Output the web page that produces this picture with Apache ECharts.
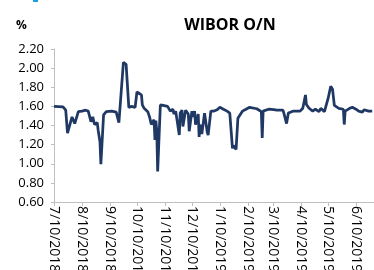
<!DOCTYPE html>
<html>
<head>
<meta charset="utf-8">
<script src="https://cdn.jsdelivr.net/npm/echarts@6/dist/echarts.min.js"></script>
<style>
  html, body { margin: 0; padding: 0; background: #fff; }
  #chart { width: 374px; height: 270px; }
</style>
</head>
<body>
<div id="chart"></div>
<script>
// WIBOR O/N, values (business days, key points)
var dates = [
  '2018-07-10','2018-07-20','2018-07-23','2018-07-25','2018-07-27','2018-07-30','2018-08-01','2018-08-02',
  '2018-08-06','2018-08-10','2018-08-14','2018-08-17','2018-08-20','2018-08-22','2018-08-24','2018-08-27',
  '2018-08-28','2018-08-30','2018-08-31','2018-09-03','2018-09-06','2018-09-12','2018-09-17','2018-09-20',
  '2018-09-25','2018-09-28','2018-10-01','2018-10-04','2018-10-08','2018-10-10','2018-10-15','2018-10-16',
  '2018-10-18','2018-10-22','2018-10-24','2018-10-26','2018-10-29','2018-10-30','2018-10-31','2018-11-01',
  '2018-11-02','2018-11-05','2018-11-08','2018-11-13','2018-11-14','2018-11-16','2018-11-19','2018-11-20',
  '2018-11-22','2018-11-23','2018-11-26','2018-11-27','2018-11-29','2018-11-30','2018-12-03','2018-12-05',
  '2018-12-06','2018-12-07','2018-12-10','2018-12-11','2018-12-13','2018-12-14','2018-12-17','2018-12-18',
  '2018-12-19','2018-12-21','2018-12-24','2018-12-27','2018-12-28','2018-12-31','2019-01-03','2019-01-07',
  '2019-01-09','2019-01-10','2019-01-14','2019-01-18','2019-01-21','2019-01-24','2019-01-25','2019-01-28',
  '2019-01-29','2019-01-30','2019-02-04','2019-02-08','2019-02-12','2019-02-20','2019-02-25','2019-02-26',
  '2019-02-27','2019-03-05','2019-03-11','2019-03-14','2019-03-21','2019-03-22','2019-03-25','2019-03-27',
  '2019-04-01','2019-04-09','2019-04-12','2019-04-15','2019-04-16','2019-04-19','2019-04-23','2019-04-26',
  '2019-04-30','2019-05-02','2019-05-06','2019-05-07','2019-05-10','2019-05-13','2019-05-15','2019-05-17',
  '2019-05-22','2019-05-27','2019-05-28','2019-05-29','2019-06-03','2019-06-06','2019-06-10','2019-06-13',
  '2019-06-14','2019-06-17','2019-06-19','2019-06-24','2019-06-28'
];
var rates = [
  1.60,1.595,1.56,1.32,1.31,1.49,1.49,1.42,
  1.545,1.55,1.56,1.55,1.44,1.49,1.41,1.43,
  1.35,1.23,0.995,1.51,1.545,1.55,1.54,1.43,
  2.06,2.04,1.59,1.60,1.59,1.75,1.72,1.615,
  1.58,1.545,1.49,1.41,1.46,1.25,1.45,1.35,
  0.92,1.615,1.61,1.60,1.595,1.55,1.57,1.52,
  1.55,1.57,1.30,1.53,1.56,1.39,1.56,1.55,
  1.52,1.34,1.55,1.49,1.55,1.41,1.52,1.28,
  1.41,1.31,1.53,1.33,1.30,1.55,1.55,1.565,
  1.575,1.59,1.57,1.55,1.53,1.16,1.19,1.15,
  1.17,1.475,1.55,1.57,1.59,1.575,1.545,1.27,
  1.55,1.57,1.565,1.56,1.56,1.53,1.42,1.53,
  1.55,1.55,1.58,1.72,1.62,1.58,1.55,1.57,
  1.545,1.58,1.545,1.56,1.68,1.81,1.78,1.61,
  1.58,1.57,1.41,1.55,1.58,1.59,1.57,1.55,
  1.57,1.54,1.565,1.55,1.55
];
var axisStart = '2018-07-10';
var axisEnd = '2019-06-30';
var yMin = 0.6, yMax = 2.2, yStep = 0.2;

// calendar days for the x axis (Excel-like date axis)
var days = [];
var cur = new Date(axisStart + 'T00:00:00Z');
var last = new Date(axisEnd + 'T00:00:00Z');
while (cur <= last) {
  days.push(cur.toISOString().slice(0, 10));
  cur = new Date(cur.getTime() + 86400000);
}

function isTick(index, value) {
  return value.slice(8, 10) === '10';
}

var chart = echarts.init(document.getElementById('chart'));
chart.setOption({
  animation: false,
  textStyle: { fontFamily: 'Open Sans' },
  title: {
    text: 'WIBOR O/N',
    left: 225,
    textAlign: 'center',
    top: 12,
    textStyle: { fontSize: 16, fontWeight: 'bold', color: '#000', fontFamily: 'Open Sans' }
  },
  graphic: [
    { type: 'text', left: 16, top: 20, style: { text: '%', fontSize: 12, fontWeight: 'bold', fill: '#000', fontFamily: 'Open Sans' } },
    { type: 'rect', shape: { x: 33, y: 0, width: 5, height: 2 }, style: { fill: '#1aa0e0' } }
  ],
  grid: { left: 54, right: 0, top: 49, bottom: 68, containLabel: false, outerBoundsMode: 'none' },
  xAxis: {
    type: 'category',
    data: days,
    boundaryGap: false,
    axisLine: { lineStyle: { color: '#bfbfbf', width: 1 } },
    axisTick: { interval: isTick, length: 4, lineStyle: { color: '#bfbfbf' } },
    axisLabel: {
      interval: isTick,
      rotate: -90,
      margin: 4,
      fontSize: 14,
      color: '#000',
      formatter: function (v) {
        var p = v.split('-');
        return (+p[1]) + '/' + (+p[2]) + '/' + p[0];
      }
    },
    splitLine: { show: false }
  },
  yAxis: {
    type: 'value',
    min: yMin,
    max: yMax,
    interval: yStep,
    axisLine: { show: true, lineStyle: { color: '#bfbfbf', width: 1 } },
    axisTick: { show: true, length: 3, lineStyle: { color: '#bfbfbf' } },
    axisLabel: {
      fontSize: 13,
      color: '#000',
      margin: 10,
      formatter: function (v) { return v.toFixed(2); }
    },
    splitLine: { show: false }
  },
  series: [{
    type: 'line',
    data: dates.map(function (d, i) { return [d, rates[i]]; }),
    showSymbol: false,
    lineStyle: { color: '#1f3864', width: 2.75 },
    itemStyle: { color: '#1f3864' }
  }]
});
</script>
</body>
</html>
